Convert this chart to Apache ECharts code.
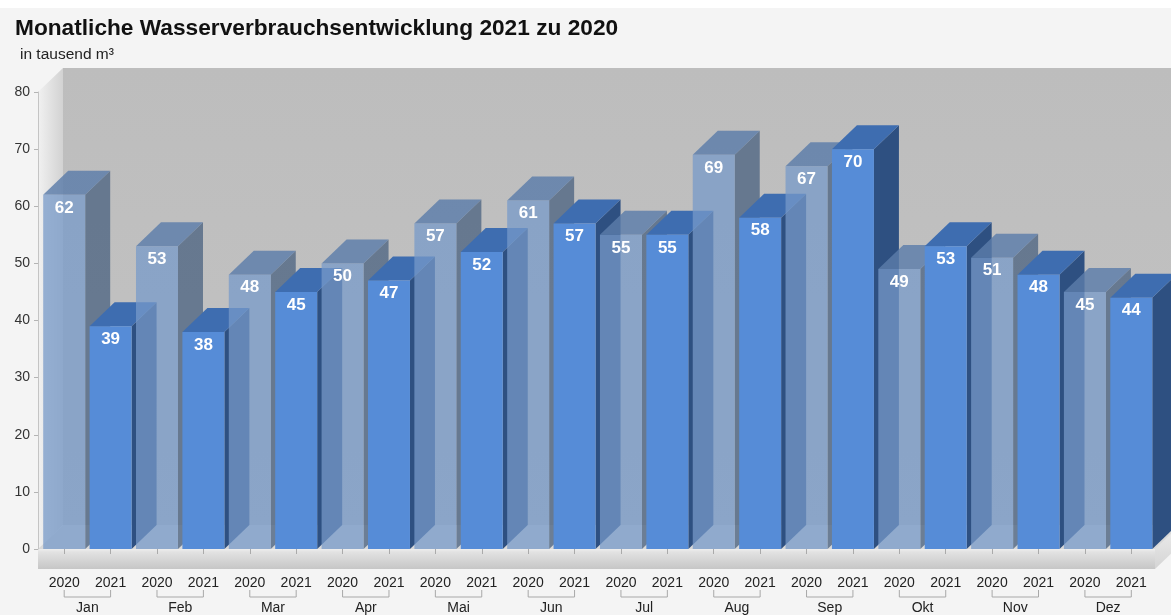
<!DOCTYPE html>
<html>
<head>
<meta charset="utf-8">
<script src="https://cdn.jsdelivr.net/npm/echarts@6/dist/echarts.min.js"></script>
<style>
html,body{margin:0;padding:0;background:#fff;}
#c{width:1171px;height:615px;}
</style>
</head>
<body>
<div id="c"></div>
<script>
const months = ['Jan','Feb','Mar','Apr','Mai','Jun','Jul','Aug','Sep','Okt','Nov','Dez'];
const years = ['2020','2021'];
const v2020 = [62,53,48,50,57,61,55,69,67,49,51,45];
const v2021 = [39,38,45,47,52,57,55,58,70,53,48,44];
const yMin = 0, yMax = 80, yStep = 10;

const categories = [];
months.forEach(m => years.forEach(y => categories.push(m + ' ' + y)));
const barData = [];
months.forEach((m, i) => {
  barData.push([2 * i, v2020[i], 0]);
  barData.push([2 * i + 1, v2021[i], 1]);
});
const bracketData = months.map((m, i) => [i, 0]);

const DX = 25, DY = 24;
const styles = [
  { front: 'rgba(119,154,201,0.74)', top: 'rgba(92,124,169,0.82)', side: 'rgba(80,102,131,0.8)' },
  { front: '#568cd7', top: '#3e6db0', side: '#2e5081' }
];

const chart = echarts.init(document.getElementById('c'), null, { renderer: 'canvas' });
const FONT = '"Liberation Sans", Arial, sans-serif';

chart.setOption({
  backgroundColor: '#f4f4f4',
  animation: false,
  title: [
    { text: 'Monatliche Wasserverbrauchsentwicklung 2021 zu 2020', left: 10, top: 12,
      textStyle: { fontSize: 22.7, fontWeight: 'bold', color: '#111', fontFamily: FONT } },
    { text: 'in tausend m³', left: 15, top: 42,
      textStyle: { fontSize: 15.5, fontWeight: 'normal', color: '#222', fontFamily: FONT } }
  ],
  graphic: [
    { type: 'rect', z: -10, shape: { x: 0, y: 0, width: 1171, height: 8 }, style: { fill: '#ffffff' } },
    { type: 'rect', z: -10, shape: { x: 63, y: 68, width: 1120, height: 457 },
      style: { fill: new echarts.graphic.LinearGradient(0, 0, 0, 1, [
        { offset: 0, color: '#bdbdbd' }, { offset: 1, color: '#c3c3c3' }]) } },
    { type: 'polygon', z: -10, shape: { points: [[38, 92], [63, 68], [63, 525], [38, 549]] },
      style: { fill: new echarts.graphic.LinearGradient(0, 0, 1, 0, [
        { offset: 0, color: '#f1f1f1' }, { offset: 1, color: '#d2d2d2' }]) } },
    { type: 'polygon', z: -10, shape: { points: [[38, 549], [63, 525], [1190, 525], [1155, 549]] },
      style: { fill: '#d9d9d9' } },
    { type: 'rect', z: -10, shape: { x: 38, y: 549, width: 1117, height: 20 },
      style: { fill: new echarts.graphic.LinearGradient(0, 0, 0, 1, [
        { offset: 0, color: '#eeeeee' }, { offset: 0.15, color: '#e2e2e2' }, { offset: 1, color: '#c6c6c6' }]) } },
    { type: 'polygon', z: -10, shape: { points: [[1155, 549], [1180, 525], [1180, 545], [1155, 569]] },
      style: { fill: new echarts.graphic.LinearGradient(0, 0, 0, 1, [
        { offset: 0, color: '#eeeeee' }, { offset: 1, color: '#d4d4d4' }]) } }
  ],
  grid: { left: 41, right: 16.5, top: 92, bottom: 66, containLabel: false },
  xAxis: [
    {
      type: 'category', data: categories, position: 'bottom', offset: 20,
      axisLine: { show: false },
      axisTick: { show: true, alignWithLabel: true, length: 5, lineStyle: { color: '#aaaaaa' } },
      axisLabel: { margin: 7, fontSize: 14, color: '#222', fontFamily: FONT,
        formatter: v => v.split(' ')[1] }
    },
    {
      type: 'category', data: months, position: 'bottom', offset: 40,
      axisLine: { show: false }, axisTick: { show: false },
      axisLabel: { margin: 12, fontSize: 14, color: '#222', fontFamily: FONT }
    }
  ],
  yAxis: {
    type: 'value', min: yMin, max: yMax, interval: yStep, offset: 3,
    axisLine: { show: true, lineStyle: { color: '#c4c4c4' } },
    axisTick: { show: true, length: 4, lineStyle: { color: '#b4b4b4' } },
    splitLine: { show: false },
    axisLabel: { margin: 8, fontSize: 14, color: '#333', fontFamily: FONT }
  },
  series: [
    {
      type: 'custom', z: 5, clip: false, xAxisIndex: 0, yAxisIndex: 0,
      data: barData, encode: { x: 0, y: 1 },
      renderItem: function (params, api) {
        const idx = api.value(0), val = api.value(1), yr = api.value(2);
        const p = api.coord([idx, val]);
        const p0 = api.coord([idx, 0]);
        const bw = api.size([1, 0])[0] * 0.905;
        const xl = p[0] - bw / 2, xr = p[0] + bw / 2, top = p[1], bot = p0[1];
        const s = styles[yr];
        return {
          type: 'group',
          children: [
            { type: 'polygon', shape: { points: [[xr, top], [xr + DX, top - DY], [xr + DX, bot - DY], [xr, bot]] },
              style: { fill: s.side } },
            { type: 'polygon', shape: { points: [[xl, top], [xl + DX, top - DY], [xr + DX, top - DY], [xr, top]] },
              style: { fill: s.top } },
            { type: 'rect', shape: { x: xl, y: top, width: bw, height: bot - top },
              style: { fill: s.front } },
            { type: 'text', x: p[0], y: top + 13,
              style: { text: String(val), fill: '#ffffff', font: 'bold 17px "Liberation Sans", Arial, sans-serif',
                textAlign: 'center', textVerticalAlign: 'middle' } }
          ]
        };
      }
    },
    {
      type: 'custom', z: 3, clip: false, xAxisIndex: 0, yAxisIndex: 0,
      data: bracketData, encode: { x: 0, y: 1 },
      renderItem: function (params, api) {
        const m = api.value(0);
        const a = api.coord([2 * m, 0]);
        const b = api.coord([2 * m + 1, 0]);
        const y0 = a[1] + 41, y1 = a[1] + 48;
        return {
          type: 'polyline',
          shape: { points: [[a[0], y0], [a[0], y1], [b[0], y1], [b[0], y0]] },
          style: { stroke: '#a8a8a8', lineWidth: 1, fill: null }
        };
      }
    }
  ]
});
</script>
</body>
</html>
